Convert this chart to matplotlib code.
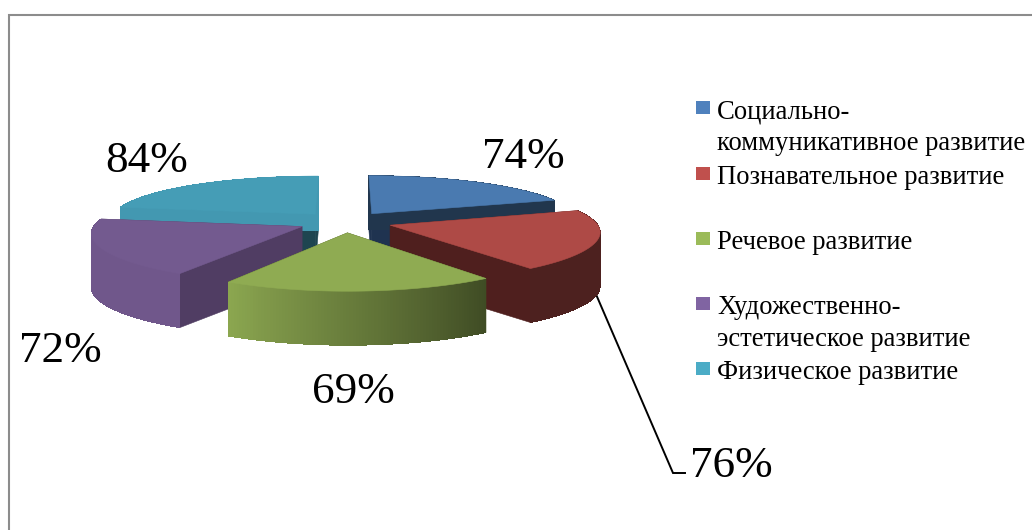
import numpy as np
import matplotlib
matplotlib.use("Agg")
import matplotlib.pyplot as plt
from matplotlib.patches import Polygon, Rectangle

plt.rcParams['font.family'] = ['Liberation Serif', 'DejaVu Serif']

categories = ["Социально-\nкоммуникативное развитие", "Познавательное развитие", "Речевое развитие",
              "Художественно-\nэстетическое развитие", "Физическое развитие"]
values = [74, 76, 69, 72, 84]
value_labels = ["74%", "76%", "69%", "72%", "84%"]

top_colors = ["#4A7AB0", "#AE4A46", "#8FAB52", "#735A8F", "#459DB6"]
wall_colors = ["#1F3350", "#4F1F1E", "#46521F", "#503D63", "#1E4550"]
legend_colors = ["#4F81BD", "#C0504D", "#9BBB59", "#8064A2", "#4BACC6"]

W, H = 1032, 530
CX, CY, RX, RY, KX, KY, DEPTH, EXPLODE = 345, 222, 206, 46, 0.12, 0.15, 54, 0.228

fig = plt.figure(figsize=(W / 100, H / 100), dpi=100, facecolor="white")
ax = fig.add_axes([0, 0, 1, 1])
ax.set_xlim(0, W)
ax.set_ylim(H, 0)
ax.axis("off")


def project(x, y, drop=0.0):
    return (CX + RX * x / (1 + KX * y), CY - RY * y / (1 + KY * y) + drop)


def hex_scale(color, f):
    r, g, b = matplotlib.colors.to_rgb(color)
    return (r * f, g * f, b * f)


total = sum(values)
bounds = np.concatenate([[0], np.cumsum(values)]) / total * 360.0
draw_order = [4, 0, 3, 1, 2]

for rank, i in enumerate(draw_order):
    a0, a1 = bounds[i], bounds[i + 1]
    z = 2 + rank
    mid = np.radians((a0 + a1) / 2)
    ox, oy = EXPLODE * np.sin(mid), EXPLODE * np.cos(mid)
    thetas = np.linspace(a0, a1, 90)
    tr = np.radians(thetas)
    xs, ys = ox + np.sin(tr), oy + np.cos(tr)
    rim = [project(x, y) for x, y in zip(xs, ys)]
    apex = project(ox, oy)
    apex_d = project(ox, oy, DEPTH)

    # radial walls
    for edge_x, edge_y in ((xs[0], ys[0]), (xs[-1], ys[-1])):
        p = project(edge_x, edge_y)
        q = project(edge_x, edge_y, DEPTH)
        ax.add_patch(Polygon([apex, p, q, apex_d], closed=True, facecolor=wall_colors[i],
                             edgecolor=wall_colors[i], lw=0.4, zorder=z))

    # outer rim as overlapping shaded strips, so no seams show between them
    for j in range(len(thetas) - 1):
        k = min(j + 3, len(thetas) - 1)
        mid_t = (thetas[j] + thetas[j + 1]) / 2
        shade = np.interp(mid_t, [144, 210], [0.44, 0.97])
        c = hex_scale(top_colors[i], shade)
        p0 = project(xs[j], ys[j])
        p1 = project(xs[k], ys[k])
        q0 = project(xs[j], ys[j], DEPTH)
        q1 = project(xs[k], ys[k], DEPTH)
        ax.add_patch(Polygon([p0, p1, q1, q0], closed=True, facecolor=c, edgecolor="none",
                             lw=0, antialiased=False, zorder=z))

    # top face
    ax.add_patch(Polygon([apex] + rim, closed=True, facecolor=top_colors[i],
                         edgecolor=top_colors[i], lw=0.4, zorder=z))

# chart frame
ax.plot([9, 9, W], [H, 15, 15], color="#8C8C8C", lw=1.5, solid_joinstyle="miter", zorder=1)

# value labels
label_pos = [(523, 157), (731, 466), (353, 392), (60, 351), (147, 161)]
for txt, (x, y) in zip(value_labels, label_pos):
    ax.text(x, y, txt, fontsize=32.5, color="black", ha="center", va="center", zorder=20)

# leader line
ax.plot([592, 673, 685], [285, 473, 473], color="black", lw=1.4, zorder=1.5, solid_joinstyle="miter")

# legend
legend_y = [107, 173, 238, 303, 368]
for name, c, y in zip(categories, legend_colors, legend_y):
    ax.add_patch(Rectangle((696, y - 6.5), 13.5, 13.5, facecolor=c, edgecolor="none", zorder=20))
    for k, line in enumerate(name.split("\n")):
        ax.text(717, y + 11 + k * 32, line, fontsize=19.2, color="black", ha="left",
                va="baseline", zorder=20)

fig.savefig("out.png", dpi=100, facecolor="white")
